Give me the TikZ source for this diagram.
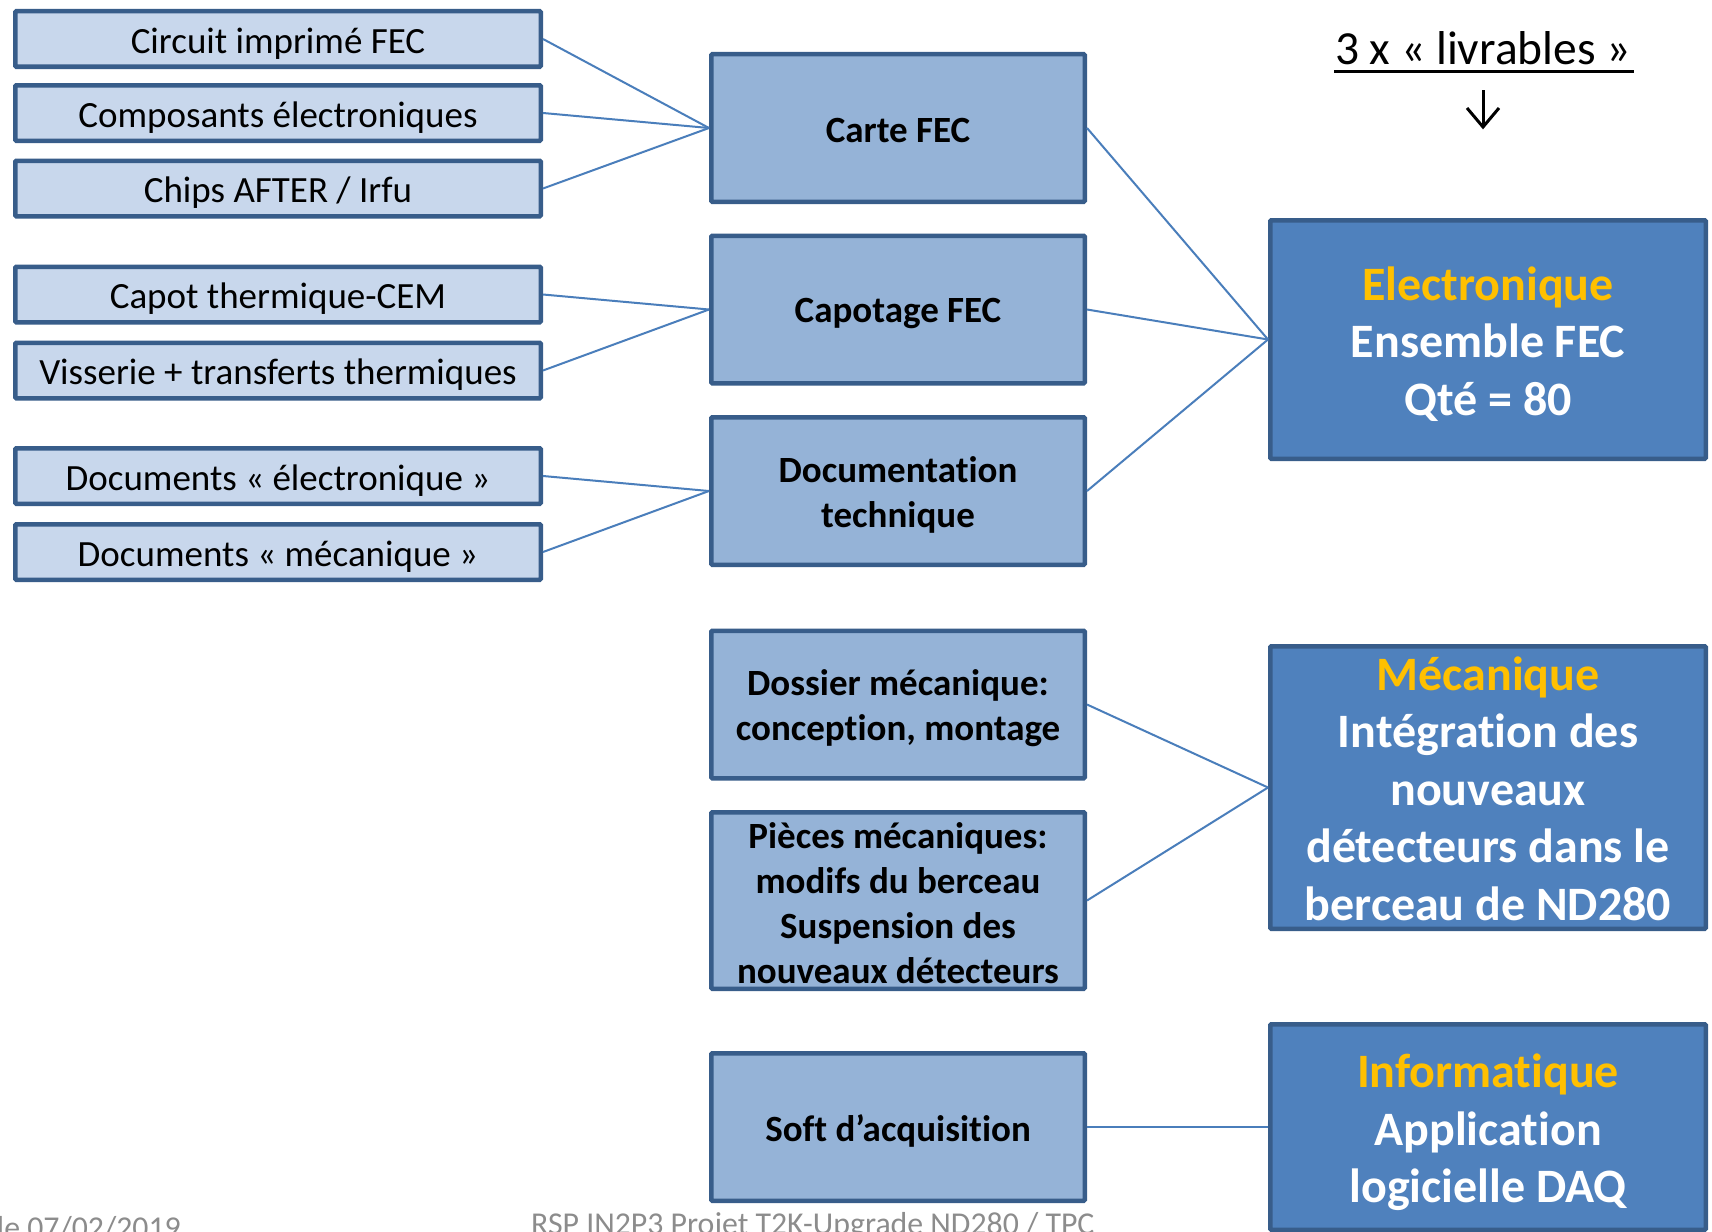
\documentclass[tikz,border=0pt]{standalone}
\usepackage{fontspec}
\setmainfont[Ligatures=NoCommon]{Carlito}
\definecolor{lightfill}{RGB}{200,215,236}
\definecolor{midfill}{RGB}{149,179,215}
\definecolor{darkfill}{RGB}{79,129,189}
\definecolor{boxborder}{RGB}{56,93,138}
\definecolor{linkcol}{RGB}{74,126,187}
\definecolor{titleyellow}{RGB}{255,192,0}
\definecolor{footgray}{RGB}{140,140,140}
\begin{document}
\begin{tikzpicture}[x=1pt,y=-1pt,
 basebox/.style={draw=boxborder, line width=4.5pt, rectangle, rounded corners=1pt, inner sep=0pt},
 partbox/.style={basebox, fill=lightfill, minimum width=525.5pt, minimum height=55.5pt},
 midbox/.style={basebox, fill=midfill, minimum width=373.5pt, minimum height=147.5pt},
 delbox/.style={basebox, fill=darkfill, minimum width=435.5pt},
 ptext/.style={align=center, inner sep=0pt, yshift=-4.4pt, font=\fontsize{37}{45}\selectfont},
 mtext/.style={align=center, inner sep=0pt, yshift=-4pt, font=\bfseries\fontsize{37}{45}\selectfont},
 dtext/.style={align=center, inner sep=0pt, yshift=-4.4pt, text=white, font=\bfseries\fontsize{48}{57.5}\selectfont},
 link/.style={draw=linkcol, line width=2pt},
 foot/.style={text=footgray, inner sep=0pt, font=\fontsize{31.8}{36}\selectfont}]
\useasboundingbox (0,0) rectangle (1712,1231);
\begin{scope}
\clip (0,0) rectangle (1712,1231);
\fill[white] (0,0) rectangle (1712,1231);

% left part boxes
\node[partbox, label={[ptext]center:{Circuit imprimé FEC}}] (p1) at (278,39) {};
\node[partbox, label={[ptext]center:{Composants électroniques}}] (p2) at (278,113) {};
\node[partbox, label={[ptext]center:{Chips AFTER / Irfu}}] (p3) at (278,188.5) {};
\node[partbox, label={[ptext]center:{Capot thermique-CEM}}] (p4) at (278,294.5) {};
\node[partbox, label={[ptext]center:{Visserie + transferts thermiques}}] (p5) at (278,370.5) {};
\node[partbox, label={[ptext]center:{Documents « électronique »}}] (p6) at (278,476) {};
\node[partbox, label={[ptext]center:{Documents « mécanique »}}] (p7) at (278,552) {};

% middle boxes
\node[midbox, label={[mtext, yshift=1.8pt]center:{Carte FEC}}] (m1) at (898,128) {};
\node[midbox, label={[mtext]center:{Capotage FEC}}] (m2) at (898,309.5) {};
\node[midbox, label={[mtext]center:{Documentation\\technique}}] (m3) at (898,491) {};
\node[midbox, label={[mtext]center:{Dossier mécanique:\\conception, montage}}] (m4) at (898,704.5) {};
\node[midbox, minimum height=176.5pt, label={[mtext, yshift=1.8pt]center:{Pièces mécaniques:\\modifs du berceau\\Suspension des\\nouveaux détecteurs}}] (m5) at (898,900.5) {};
\node[midbox, label={[mtext]center:{Soft d’acquisition}}] (m6) at (898,1127) {};

% deliverable boxes
\node[delbox, minimum height=238.5pt, label={[dtext]center:{\textcolor{titleyellow}{Electronique}\\Ensemble FEC\\Qté = 80}}] (d1) at (1488,339.5) {};
\node[delbox, minimum height=282.5pt, label={[dtext, yshift=3.2pt]center:{\textcolor{titleyellow}{Mécanique}\\Intégration des\\nouveaux\\détecteurs dans le\\berceau de ND280}}] (d2) at (1488,787.5) {};
\node[delbox, minimum height=205.5pt, label={[dtext, yshift=-1pt]center:{\textcolor{titleyellow}{Informatique}\\Application\\logicielle DAQ}}] (d3) at (1488,1127) {};

% connectors
\draw[link] (p1.east) -- (m1.west);
\draw[link] (p2.east) -- (m1.west);
\draw[link] (p3.east) -- (m1.west);
\draw[link] (p4.east) -- (m2.west);
\draw[link] (p5.east) -- (m2.west);
\draw[link] (p6.east) -- (m3.west);
\draw[link] (p7.east) -- (m3.west);
\draw[link] (m1.east) -- (d1.west);
\draw[link] (m2.east) -- (d1.west);
\draw[link] (m3.east) -- (d1.west);
\draw[link] (m4.east) -- (d2.west);
\draw[link] (m5.east) -- (d2.west);
\draw[link] (m6.east) -- (d3.west);

% title
\node[anchor=base, inner sep=0pt, font=\fontsize{47.5}{56}\selectfont] (title) at (1483,65) {3 x « livrables »};
\coordinate (ulA) at (1334,71);
\coordinate (ulB) at (1634,71);
\draw[line width=3pt] (ulA) -- (ulB);
\coordinate (arTop) at (1483,90);
\coordinate (arTip) at (1483,127);
\draw[line width=3pt] (arTop) -- (arTip);
\draw[line width=3pt, line join=miter] (1467,108) -- (arTip) -- (1499,108);

% footer
\node[foot, anchor=base west] (f1) at (531,1234) {RSP IN2P3 Projet T2K-Upgrade ND280 / TPC};
\node[foot, anchor=base east] (f2) at (181,1238) {le 07/02/2019};
\end{scope}
\end{tikzpicture}
\end{document}
